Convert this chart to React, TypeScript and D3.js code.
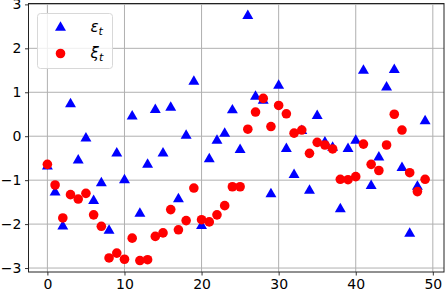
import * as d3 from 'd3';
import { useCallback } from 'react';

const eps = [
  -0.67, -1.26, -2.03, 0.75, -0.53, -0.03, -1.45, -1.05, -2.13, -0.37,
  -0.98, 0.47, -1.74, -0.63, 0.62, -0.37, 0.67, -1.41, 0.03, 1.26,
  -2.02, -0.5, -0.08, 0.08, 0.61, -0.29, 2.76, 0.92, 0.83, -1.3,
  1.17, -0.27, -0.86, 0.14, -1.22, 0.48, -0.12, -0.24, -1.64, -0.27,
  -0.08, 1.51, -1.11, -0.46, 1.13, 1.53, -0.7, -2.2, -1.13, 0.36,
];

const xi = [
  -0.64, -1.11, -1.86, -1.33, -1.43, -1.3, -1.79, -2.05, -2.77, -2.66,
  -2.8, -2.32, -2.83, -2.81, -2.28, -2.2, -1.67, -2.13, -1.92, -1.18,
  -1.9, -1.95, -1.79, -1.58, -1.15, -1.15, 0.16, 0.55, 0.86, 0.22,
  0.7, 0.51, 0.07, 0.14, -0.39, -0.14, -0.2, -0.29, -0.98, -0.99,
  -0.92, -0.18, -0.64, -0.78, -0.2, 0.5, 0.14, -0.83, -1.26, -0.98,
];

const xTicks = [0, 10, 20, 30, 40, 50];
const yTicks = [-3, -2, -1, 0, 1, 2, 3];

const width = 446;
const height = 292;
const margin = { left: 28.5, right: 2, top: 3.5, bottom: 20 };

const App = () => {
  const draw = useCallback((ref: SVGSVGElement | null) => {
    if (!ref) return;
    const svg = d3.select(ref);
    svg.selectAll('*').remove();

    const x = d3.scaleLinear().domain([-2.45, 51.45]).range([margin.left, width - margin.right]);
    const y = d3.scaleLinear().domain([-3.09, 3.02]).range([height - margin.bottom, margin.top]);

    // grid
    svg
      .append('g')
      .selectAll('line.gx')
      .data(xTicks)
      .join('line')
      .attr('x1', (d) => x(d))
      .attr('x2', (d) => x(d))
      .attr('y1', y.range()[0])
      .attr('y2', y.range()[1])
      .attr('stroke', '#b0b0b0')
      .attr('stroke-width', 1);
    svg
      .append('g')
      .selectAll('line.gy')
      .data(yTicks)
      .join('line')
      .attr('x1', x.range()[0])
      .attr('x2', x.range()[1])
      .attr('y1', (d) => y(d))
      .attr('y2', (d) => y(d))
      .attr('stroke', '#b0b0b0')
      .attr('stroke-width', 1);

    // triangles
    const tri = d3.symbol().type(d3.symbolTriangle).size(52);
    svg
      .append('g')
      .selectAll('path')
      .data(eps)
      .join('path')
      .attr('d', tri)
      .attr('transform', (d, i) => `translate(${x(i)},${y(d) + 0.8})`)
      .attr('fill', 'blue');

    // circles
    svg
      .append('g')
      .selectAll('circle')
      .data(xi)
      .join('circle')
      .attr('cx', (d, i) => x(i))
      .attr('cy', (d) => y(d))
      .attr('r', 4.8)
      .attr('fill', 'red');

    // axes
    const fmt = (d: d3.NumberValue) => (+d < 0 ? '\u2212' + Math.abs(+d) : String(d));
    const xa = svg
      .append('g')
      .attr('transform', `translate(0,${height - margin.bottom})`)
      .call(d3.axisBottom(x).tickValues(xTicks).tickSize(3.5).tickPadding(3.5).tickFormat(fmt));
    const ya = svg
      .append('g')
      .attr('transform', `translate(${margin.left},0)`)
      .call(d3.axisLeft(y).tickValues(yTicks).tickSize(3.5).tickPadding(3.5).tickFormat(fmt));
    [xa, ya].forEach((a) => {
      a.select('.domain').remove();
      a.selectAll('text')
        .attr('font-family', 'DejaVu Sans')
        .attr('font-size', 14)
        .attr('fill', 'black');
      a.selectAll('line').attr('stroke', 'black').attr('stroke-width', 0.8);
    });

    // frame
    svg
      .append('rect')
      .attr('x', x.range()[0])
      .attr('y', y.range()[1])
      .attr('width', x.range()[1] - x.range()[0])
      .attr('height', y.range()[0] - y.range()[1])
      .attr('fill', 'none')
      .attr('stroke', '#222')
      .attr('stroke-width', 1);

    // legend
    const lg = svg.append('g').attr('transform', 'translate(37.5,13.5)');
    lg.append('rect')
      .attr('width', 75)
      .attr('height', 55)
      .attr('rx', 3)
      .attr('fill', 'white')
      .attr('fill-opacity', 0.8)
      .attr('stroke', '#d8d8d8')
      .attr('stroke-width', 1);
    lg.append('path').attr('d', tri).attr('transform', 'translate(23,14)').attr('fill', 'blue');
    lg.append('circle').attr('cx', 23).attr('cy', 40).attr('r', 4.8).attr('fill', 'red');
    const labels = ['\u03b5', '\u03be'];
    labels.forEach((s, i) => {
      const t = lg
        .append('text')
        .attr('x', 53)
        .attr('y', 18 + i * 26)
        .attr('font-family', 'DejaVu Sans')
        .attr('font-style', 'italic')
        .attr('font-size', 15)
        .attr('fill', 'black');
      t.append('tspan').text(s);
      t.append('tspan').attr('dy', 3).attr('font-size', 11).text('t');
    });
  }, []);

  return (
    <div>
      <style>{`body { margin: 0; }`}</style>
      <svg width={width} height={height} ref={draw} style={{ display: 'block' }}></svg>
    </div>
  );
};

export default App;
